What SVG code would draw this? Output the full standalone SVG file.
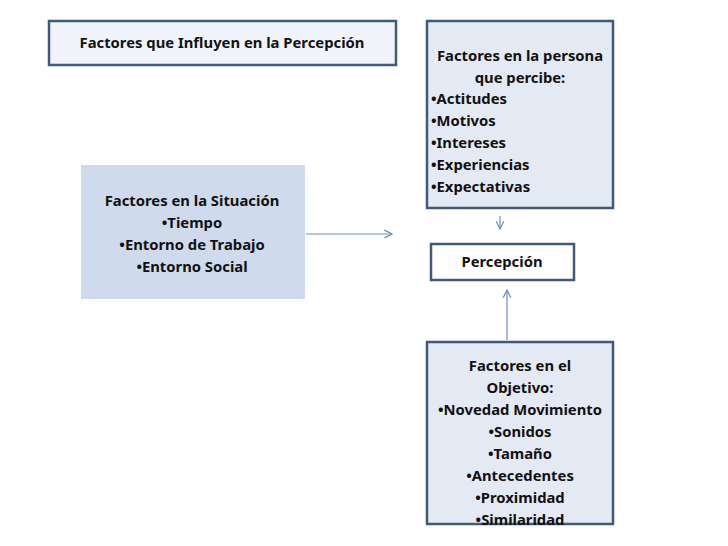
<svg xmlns="http://www.w3.org/2000/svg" width="728" height="546" viewBox="0 0 728 546">
<defs>
<style>
text{font-family:"Noto Sans","Liberation Sans",sans-serif;font-weight:bold;font-size:14.8px;fill:#111}
.b{stroke:#3f5a7a;stroke-width:2.5}
.c{stroke:#6f8fb5;stroke-width:1.2;fill:none}
</style>
<marker id="a" viewBox="0 0 10 10" refX="9" refY="5" markerWidth="8" markerHeight="8" orient="auto"><path d="M1,1L9,5L1,9" fill="none" stroke="#6f8fb5" stroke-width="1.3"/></marker>
</defs>
<rect width="728" height="546" fill="#fff"/>
<g id="titulo"><rect class="b" x="49" y="21" width="347" height="44" fill="#f1f4fa"/><text x="222" y="48" text-anchor="middle">Factores que Influyen en la Percepción</text></g>
<g id="persona"><rect class="b" x="427" y="21" width="186" height="187" fill="#e4eaf4"/>
<text x="520" y="61" text-anchor="middle">Factores en la persona</text><text x="520" y="83" text-anchor="middle">que percibe:</text>
<text x="431" y="104">•Actitudes</text><text x="431" y="126">•Motivos</text><text x="431" y="148">•Intereses</text><text x="431" y="170">•Experiencias</text><text x="431" y="192">•Expectativas</text></g>
<g id="situacion"><rect x="81" y="165" width="224" height="134" fill="#cfdbec"/>
<text x="192" y="206" text-anchor="middle">Factores en la Situación</text><text x="192" y="228" text-anchor="middle">•Tiempo</text><text x="192" y="250" text-anchor="middle">•Entorno de Trabajo</text><text x="192" y="272" text-anchor="middle">•Entorno Social</text></g>
<g id="percepcion"><rect class="b" x="431" y="244" width="143" height="36" fill="#fff"/><text x="502" y="267" text-anchor="middle">Percepción</text></g>
<g id="objetivo"><rect class="b" x="427" y="342" width="186" height="182" fill="#e4eaf4"/>
<text x="520" y="371" text-anchor="middle">Factores en el</text><text x="520" y="393" text-anchor="middle">Objetivo:</text><text x="520" y="415" text-anchor="middle">•Novedad Movimiento</text><text x="520" y="437" text-anchor="middle">•Sonidos</text><text x="520" y="459" text-anchor="middle">•Tamaño</text><text x="520" y="481" text-anchor="middle">•Antecedentes</text><text x="520" y="503" text-anchor="middle">•Proximidad</text><text x="520" y="525" text-anchor="middle">•Similaridad</text></g>
<g id="conectores">
<line class="c" x1="306" y1="234" x2="392" y2="234" marker-end="url(#a)"/>
<line class="c" x1="500" y1="216" x2="500" y2="229" marker-end="url(#a)"/>
<line class="c" x1="507" y1="340" x2="507" y2="290" marker-end="url(#a)"/>
</g>
</svg>
